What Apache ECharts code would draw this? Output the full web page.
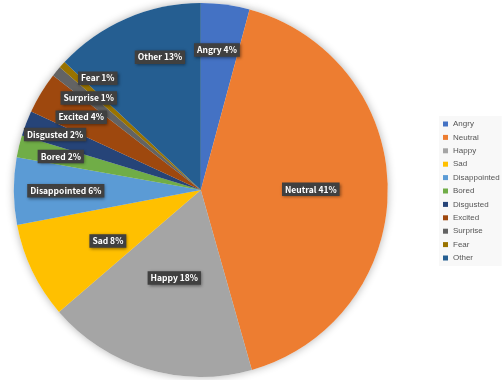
<!DOCTYPE html>
<html>
<head>
<meta charset="utf-8">
<script src="https://cdn.jsdelivr.net/npm/echarts@6/dist/echarts.min.js"></script>
<style>
html, body { margin: 0; padding: 0; background: #fff; }
#main { width: 502px; height: 380px; }
</style>
</head>
<body>
<div id="main"></div>
<script>
// categories and shares (percent), clockwise from 12 o'clock
var categories = ['Angry', 'Neutral', 'Happy', 'Sad', 'Disappointed', 'Bored', 'Disgusted', 'Excited', 'Surprise', 'Fear', 'Other'];
var shares = [4.2, 41.4, 18.1, 8.3, 5.8, 1.9, 2.2, 3.6, 0.9, 0.6, 13.0];

// office palette
var colors = ['#4472C4', '#ED7D31', '#A5A5A5', '#FFC000', '#5B9BD5', '#70AD47', '#264478', '#9E480E', '#636363', '#997300', '#255E91'];
// label placement: distance from centre (px) and a small turn off the slice middle (deg)
var labelDist = [141, 110, 92, 106, 135, 144, 156, 140, 145, 152, 139];
var labelTurn = [-1, 0, 0, -3, 0, 0, 0, 0, 0, 5.2, 6.3];

var pieData = [];
for (var i = 0; i < categories.length; i++) {
    pieData.push({ name: categories[i], value: shares[i] });
}

var chart = echarts.init(document.getElementById('main'));
var cxPct = 40, cyPct = 50, R = 187;

var option = {
    animation: false,
    color: colors,
    legend: {
        orient: 'vertical',
        left: 439,
        top: 116,
        data: categories,
        icon: 'rect',
        itemWidth: 5,
        itemHeight: 5,
        itemGap: 3.4,
        padding: [3, 2, 3, 4],
        backgroundColor: '#f8f8f8',
        textStyle: { fontSize: 8, color: '#555', lineHeight: 10, fontFamily: 'Liberation Sans' }
    },
    series: [
        {
            type: 'pie',
            z: 2,
            center: [cxPct + '%', cyPct + '%'],
            radius: R,
            startAngle: 90,
            clockwise: true,
            avoidLabelOverlap: false,
            data: pieData,
            itemStyle: { borderWidth: 0 },
            emphasis: { disabled: true },
            label: {
                show: true,
                position: 'inside',
                formatter: function (p) { return p.name + ' ' + Math.round(p.percent) + '%'; },
                color: '#fff',
                fontSize: 8.5,
                fontWeight: 'bold',
                fontFamily: 'Noto Sans CJK SC',
                backgroundColor: '#404040',
                padding: [3, 3, 2, 3],
                shadowColor: 'rgba(0,0,0,0.45)',
                shadowBlur: 3,
                shadowOffsetX: 1,
                shadowOffsetY: 1
            },
            labelLine: { show: false },
            labelLayout: function (p) {
                var cx = chart.getWidth() * cxPct / 100;
                var cy = chart.getHeight() * cyPct / 100;
                var lx = p.labelRect.x + p.labelRect.width / 2;
                var ly = p.labelRect.y + p.labelRect.height / 2;
                var a = Math.atan2(ly - cy, lx - cx) + labelTurn[p.dataIndex] * Math.PI / 180;
                var r = labelDist[p.dataIndex];
                return { dx: cx + r * Math.cos(a) - lx, dy: cy + r * Math.sin(a) - ly };
            }
        },
        {
            // soft drop shadow under the pie
            type: 'pie',
            z: 1,
            silent: true,
            center: [cxPct + '%', cyPct + '%'],
            radius: R,
            data: pieData,
            itemStyle: { color: '#fff', shadowBlur: 8, shadowColor: 'rgba(0,0,0,0.3)' },
            label: { show: false },
            labelLine: { show: false },
            emphasis: { disabled: true }
        }
    ]
};
chart.setOption(option);
</script>
</body>
</html>
